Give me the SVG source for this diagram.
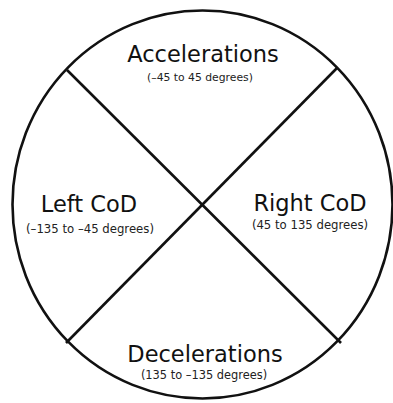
<svg xmlns="http://www.w3.org/2000/svg" width="393" height="403" viewBox="0 0 393 403">
<style>
.title{font-family:"DejaVu Sans","Liberation Sans",sans-serif;font-size:22.5px;fill:#111;text-anchor:middle}
.sub{font-family:"DejaVu Sans","Liberation Sans",sans-serif;font-size:10.8px;fill:#222;text-anchor:middle}
.ln{stroke:#111;stroke-width:2.6;fill:none}
</style>
<rect width="393" height="403" fill="#fff"/>
<g id="frame">
<ellipse class="ln" cx="202.5" cy="204.5" rx="190" ry="194"/>
</g>
<g id="connectors">
<line class="ln" x1="67" y1="70" x2="341" y2="343"/>
<line class="ln" x1="337" y1="68" x2="66" y2="343"/>
</g>
<g id="accelerations">
<text class="title" x="203" y="62">Accelerations</text>
<text class="sub" x="200" y="81">(–45 to 45 degrees)</text>
</g>
<g id="left-cod">
<text class="title" x="89" y="212">Left CoD</text>
<text class="sub" x="90" y="233" style="font-size:11.7px">(–135 to –45 degrees)</text>
</g>
<g id="right-cod">
<text class="title" x="310" y="211">Right CoD</text>
<text class="sub" x="310" y="229" style="font-size:11.7px">(45 to 135 degrees)</text>
</g>
<g id="decelerations">
<text class="title" x="205" y="362">Decelerations</text>
<text class="sub" x="204" y="379" style="font-size:11.4px">(135 to –135 degrees)</text>
</g>
</svg>
